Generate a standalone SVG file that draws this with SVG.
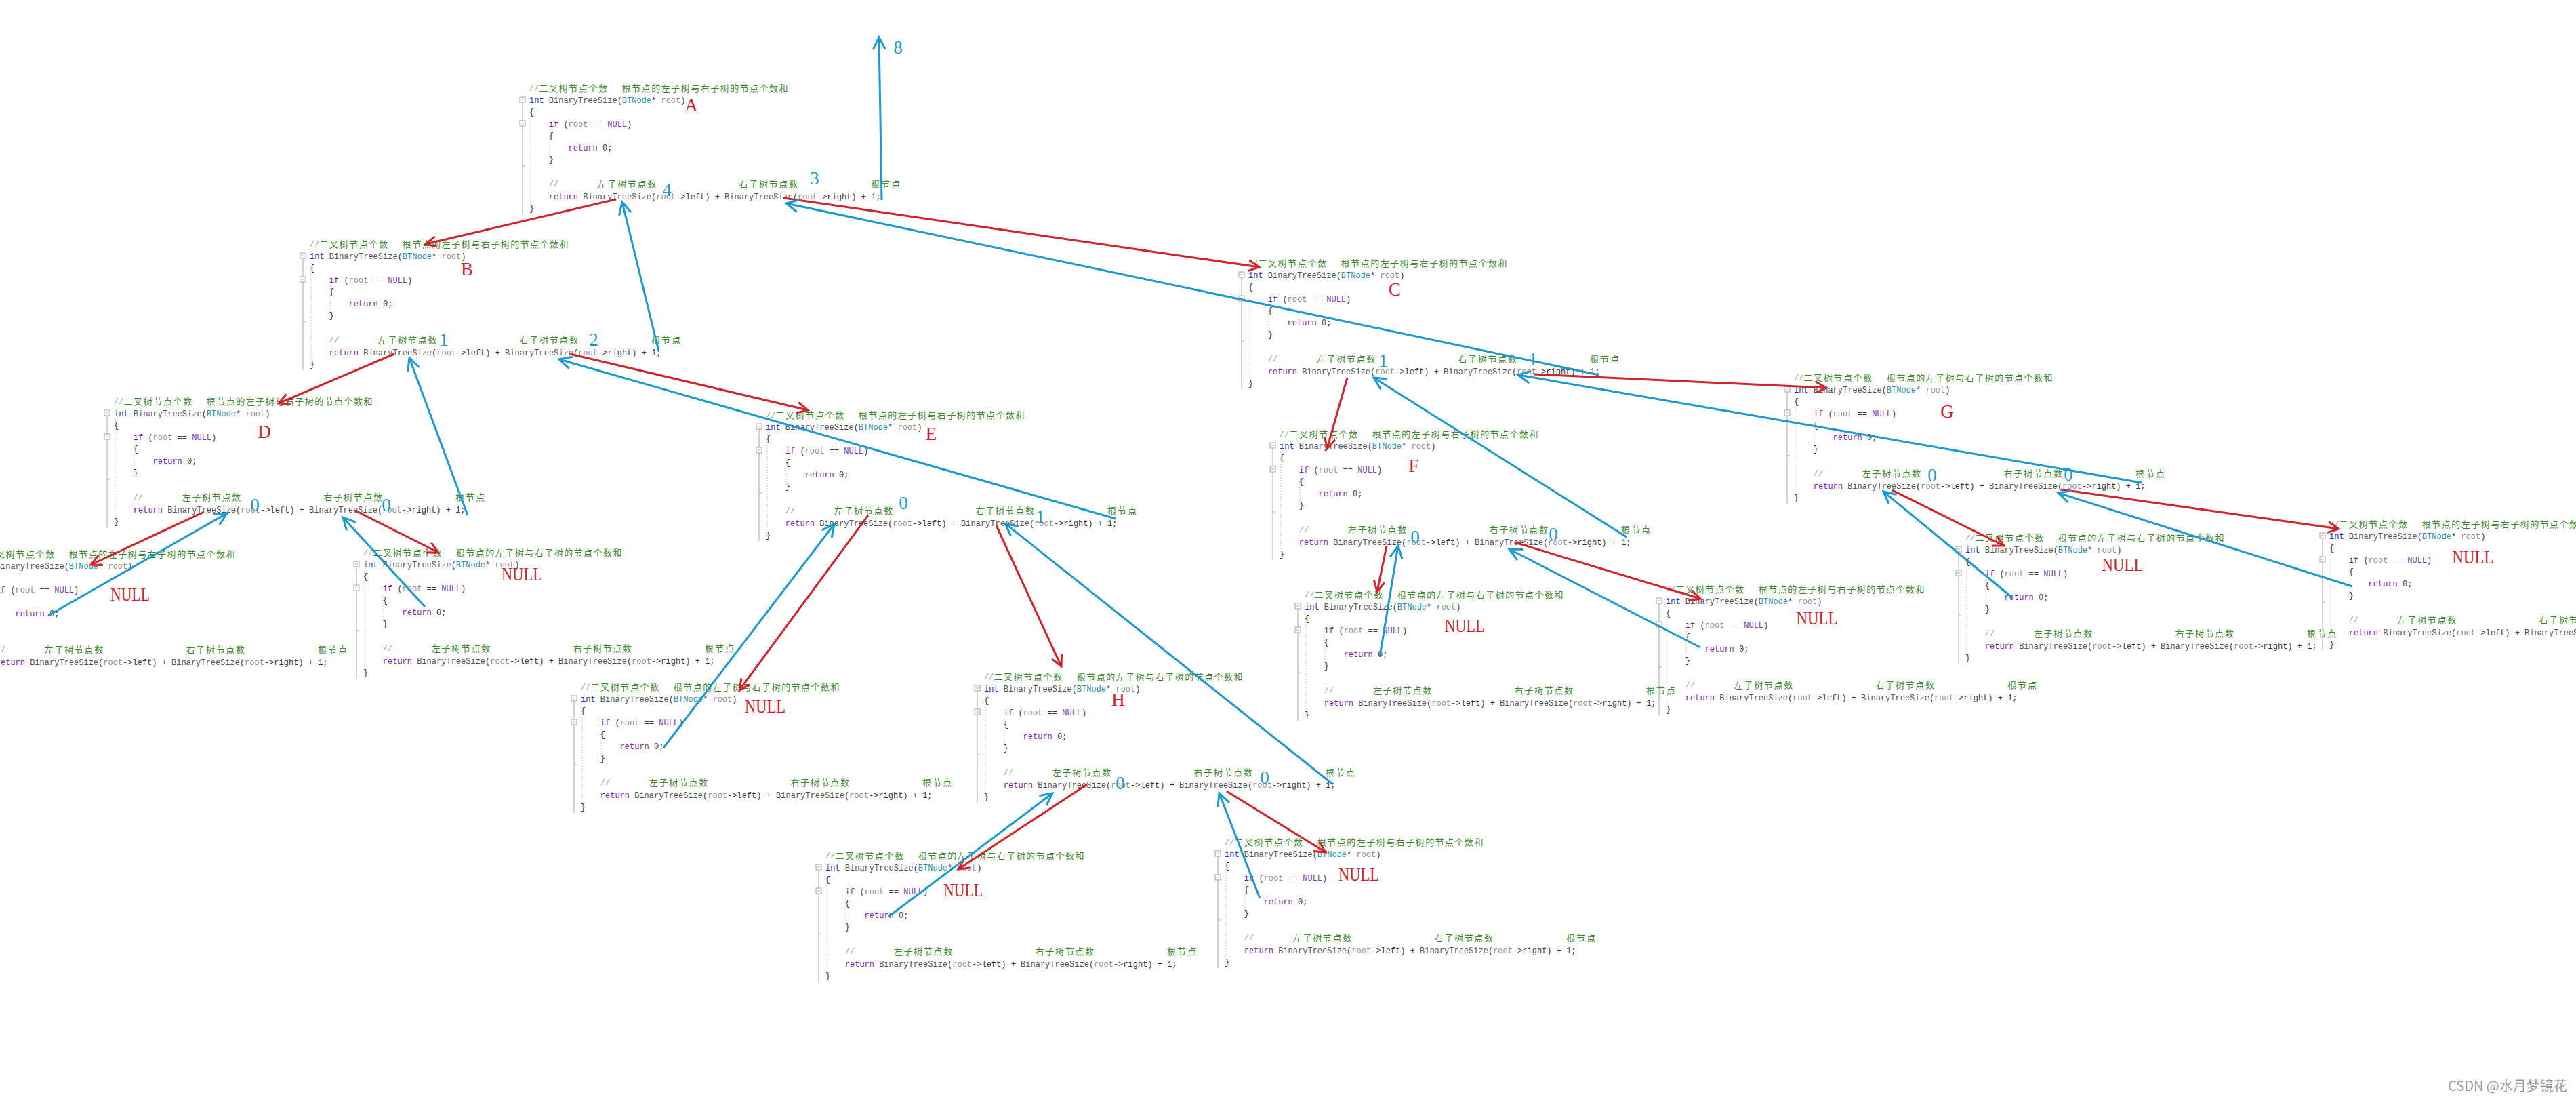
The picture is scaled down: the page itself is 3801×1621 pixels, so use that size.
<svg xmlns="http://www.w3.org/2000/svg" xmlns:xlink="http://www.w3.org/1999/xlink" width="3801" height="1621" viewBox="0 0 3801 1621">
<style>
.c{font-family:"Liberation Mono",monospace;font-size:12px;fill:#3a3a3a}
.sl{fill:#8aa88a}
.cm{font-family:"Noto Sans CJK SC",sans-serif;font-size:13px;fill:#3d8b2f}
.kw{fill:#2438d0}
.pu{fill:#8a1bb8}
.nu{fill:#7a3cc0}
.ty{fill:#2b91af}
.gr{fill:#8c8c8c}
.fn{fill:#555}
.gut{stroke:#a8a8a8;stroke-width:1;fill:none}
.gd{stroke:#c8c8c8;stroke-width:1;stroke-dasharray:2 2;fill:none}
.lbl{font-family:"Liberation Serif",serif;font-size:27px;fill:#d2232a;text-anchor:middle}
.num{font-family:"Liberation Serif",serif;font-size:27px;fill:#1b9ad2;text-anchor:middle}
.red{stroke:#d2232a;stroke-width:3;fill:none;marker-end:url(#ar)}
.blue{stroke:#1b9ad2;stroke-width:3;fill:none;marker-end:url(#ab)}
.wm{font-family:"Noto Sans CJK SC",sans-serif;font-size:20px;fill:#9a9a9a}
</style>
<defs>
<marker id="ar" markerUnits="userSpaceOnUse" markerWidth="40" markerHeight="40" refX="0" refY="0" orient="auto" overflow="visible">
<path d="M-16,-8 L0,0 L-16,8" fill="none" stroke="#d2232a" stroke-width="3"/>
</marker>
<marker id="ab" markerUnits="userSpaceOnUse" markerWidth="40" markerHeight="40" refX="0" refY="0" orient="auto" overflow="visible">
<path d="M-18,-9 L0,0 L-18,9" fill="none" stroke="#1b9ad2" stroke-width="3"/>
</marker>
<g id="code">
<rect x="-14" y="13" width="8" height="8" class="gut"/>
<line x1="-12" y1="17" x2="-8" y2="17" class="gut"/>
<rect x="-14" y="48" width="8" height="8" class="gut"/>
<line x1="-12" y1="52" x2="-8" y2="52" class="gut"/>
<line x1="-10" y1="21" x2="-10" y2="48" class="gut"/>
<line x1="-10" y1="56" x2="-10" y2="186" class="gut"/>
<line x1="-10" y1="115" x2="-6" y2="115" class="gut"/>
<line x1="2" y1="28" x2="2" y2="180" class="gd"/>
<line x1="30" y1="62" x2="30" y2="104" class="gd"/>
<text class="c sl" x="0" y="4">//</text>
<text class="cm" x="14.4" y="5" textLength="100.8" lengthAdjust="spacing">二叉树节点个数</text>
<text class="cm" x="136.8" y="5" textLength="244.8" lengthAdjust="spacing">根节点的左子树与右子树的节点个数和</text>
<text class="c" x="0" y="21.5"><tspan class="kw">int</tspan> <tspan class="fn">BinaryTreeSize</tspan>(<tspan class="ty">BTNode</tspan>* <tspan class="gr">root</tspan>)</text>
<text class="c" x="0" y="39">{</text>
<text class="c" x="28.8" y="56.5"><tspan class="pu">if</tspan> (<tspan class="gr">root</tspan> == <tspan class="nu">NULL</tspan>)</text>
<text class="c" x="28.8" y="74">{</text>
<text class="c" x="57.6" y="91.5"><tspan class="pu">return</tspan> 0;</text>
<text class="c" x="28.8" y="109">}</text>
<text class="c sl" x="28.8" y="145">//</text>
<text class="cm" x="100.8" y="146" textLength="86.4" lengthAdjust="spacing">左子树节点数</text>
<text class="cm" x="309.6" y="146" textLength="86.4" lengthAdjust="spacing">右子树节点数</text>
<text class="cm" x="504" y="146" textLength="43.2" lengthAdjust="spacing">根节点</text>
<text class="c" x="28.8" y="164"><tspan class="pu">return</tspan> <tspan class="fn">BinaryTreeSize</tspan>(<tspan class="gr">root</tspan>-&gt;left) + <tspan class="fn">BinaryTreeSize</tspan>(<tspan class="gr">root</tspan>-&gt;right) + 1;</text>
<text class="c" x="0" y="181">}</text>
</g>
</defs>
<rect x="0" y="0" width="3801" height="1621" fill="#ffffff"/>

<g id="node-A"><use href="#code" x="781" y="130"/><text class="lbl" x="1020" y="164">A</text></g>
<g id="node-B"><use href="#code" x="457" y="360"/><text class="lbl" x="689" y="406">B</text></g>
<g id="node-C"><use href="#code" x="1842" y="388"/><text class="lbl" x="2058" y="436">C</text></g>
<g id="node-D"><use href="#code" x="168" y="592"/><text class="lbl" x="390" y="646">D</text></g>
<g id="node-E"><use href="#code" x="1130" y="612"/><text class="lbl" x="1374" y="649">E</text></g>
<g id="node-F"><use href="#code" x="1888" y="640"/><text class="lbl" x="2086" y="696">F</text></g>
<g id="node-G"><use href="#code" x="2647" y="557"/><text class="lbl" x="2873" y="616">G</text></g>
<g id="node-H"><use href="#code" x="1452" y="998"/><text class="lbl" x="1650" y="1041">H</text></g>
<g id="node-D-left"><use href="#code" x="-35" y="817"/><text class="lbl" x="192" y="886" textLength="58" lengthAdjust="spacingAndGlyphs">NULL</text></g>
<g id="node-D-right"><use href="#code" x="536" y="815"/><text class="lbl" x="770" y="856" textLength="60" lengthAdjust="spacingAndGlyphs">NULL</text></g>
<g id="node-E-left"><use href="#code" x="857" y="1013"/><text class="lbl" x="1129" y="1051" textLength="60" lengthAdjust="spacingAndGlyphs">NULL</text></g>
<g id="node-H-left"><use href="#code" x="1218" y="1262"/><text class="lbl" x="1421" y="1322" textLength="58" lengthAdjust="spacingAndGlyphs">NULL</text></g>
<g id="node-H-right"><use href="#code" x="1807" y="1242"/><text class="lbl" x="2005" y="1299" textLength="60" lengthAdjust="spacingAndGlyphs">NULL</text></g>
<g id="node-F-left"><use href="#code" x="1925" y="877"/><text class="lbl" x="2161" y="932" textLength="59" lengthAdjust="spacingAndGlyphs">NULL</text></g>
<g id="node-F-right"><use href="#code" x="2458" y="869"/><text class="lbl" x="2681" y="921" textLength="61" lengthAdjust="spacingAndGlyphs">NULL</text></g>
<g id="node-G-left"><use href="#code" x="2900" y="793"/><text class="lbl" x="3132" y="842" textLength="61" lengthAdjust="spacingAndGlyphs">NULL</text></g>
<g id="node-G-right"><use href="#code" x="3437" y="773"/><text class="lbl" x="3649" y="831" textLength="61" lengthAdjust="spacingAndGlyphs">NULL</text></g>

<g id="connectors">
<line class="red" x1="909" y1="294" x2="628" y2="360"/>
<line class="red" x1="1156" y1="292" x2="1858" y2="394"/>
<line class="red" x1="582" y1="522" x2="411" y2="595"/>
<line class="red" x1="841" y1="522" x2="1192" y2="605"/>
<line class="red" x1="301" y1="755" x2="134" y2="833"/>
<line class="red" x1="524" y1="753" x2="647" y2="815"/>
<line class="red" x1="1281" y1="760" x2="1091" y2="1018"/>
<line class="red" x1="1470" y1="775" x2="1566" y2="983"/>
<line class="red" x1="1604" y1="1157" x2="1414" y2="1282"/>
<line class="red" x1="1810" y1="1167" x2="1956" y2="1257"/>
<line class="red" x1="1988" y1="557" x2="1958" y2="662"/>
<line class="red" x1="2263" y1="552" x2="2695" y2="572"/>
<line class="red" x1="2046" y1="805" x2="2032" y2="873"/>
<line class="red" x1="2235" y1="800" x2="2509" y2="883"/>
<line class="red" x1="2792" y1="723" x2="2957" y2="805"/>
<line class="red" x1="3041" y1="722" x2="3451" y2="780"/>

<line class="blue" x1="71" y1="908" x2="335" y2="757"/>
<line class="blue" x1="627" y1="895" x2="506" y2="763"/>
<line class="blue" x1="690" y1="760" x2="604" y2="528"/>
<line class="blue" x1="979" y1="1103" x2="1231" y2="773"/>
<line class="blue" x1="1311" y1="1352" x2="1553" y2="1170"/>
<line class="blue" x1="1859" y1="1325" x2="1799" y2="1170"/>
<line class="blue" x1="1967" y1="1157" x2="1483" y2="772"/>
<line class="blue" x1="1646" y1="765" x2="825" y2="530"/>
<line class="blue" x1="972" y1="518" x2="918" y2="298"/>
<line class="blue" x1="2036" y1="968" x2="2063" y2="805"/>
<line class="blue" x1="2509" y1="955" x2="2227" y2="810"/>
<line class="blue" x1="2400" y1="792" x2="2027" y2="557"/>
<line class="blue" x1="2970" y1="882" x2="2779" y2="725"/>
<line class="blue" x1="3471" y1="865" x2="3037" y2="727"/>
<line class="blue" x1="3160" y1="712" x2="2240" y2="553"/>
<line class="blue" x1="2359" y1="553" x2="1160" y2="300"/>
<line class="blue" x1="1301" y1="295" x2="1297" y2="55"/>
</g>

<g id="return-values">
<text class="num" x="1325" y="79">8</text>
<text class="num" x="984" y="289">4</text>
<text class="num" x="1202" y="272">3</text>
<text class="num" x="655" y="510">1</text>
<text class="num" x="876" y="510">2</text>
<text class="num" x="2041" y="541">1</text>
<text class="num" x="2262" y="539">1</text>
<text class="num" x="376" y="754">0</text>
<text class="num" x="570" y="754">0</text>
<text class="num" x="1333" y="751">0</text>
<text class="num" x="1535" y="771">1</text>
<text class="num" x="2088" y="801">0</text>
<text class="num" x="2292" y="797">0</text>
<text class="num" x="2851" y="710">0</text>
<text class="num" x="3052" y="709">0</text>
<text class="num" x="1653" y="1164">0</text>
<text class="num" x="1866" y="1156">0</text>
</g>

<text class="wm" x="3612" y="1609">CSDN @水月梦镜花</text>
</svg>
